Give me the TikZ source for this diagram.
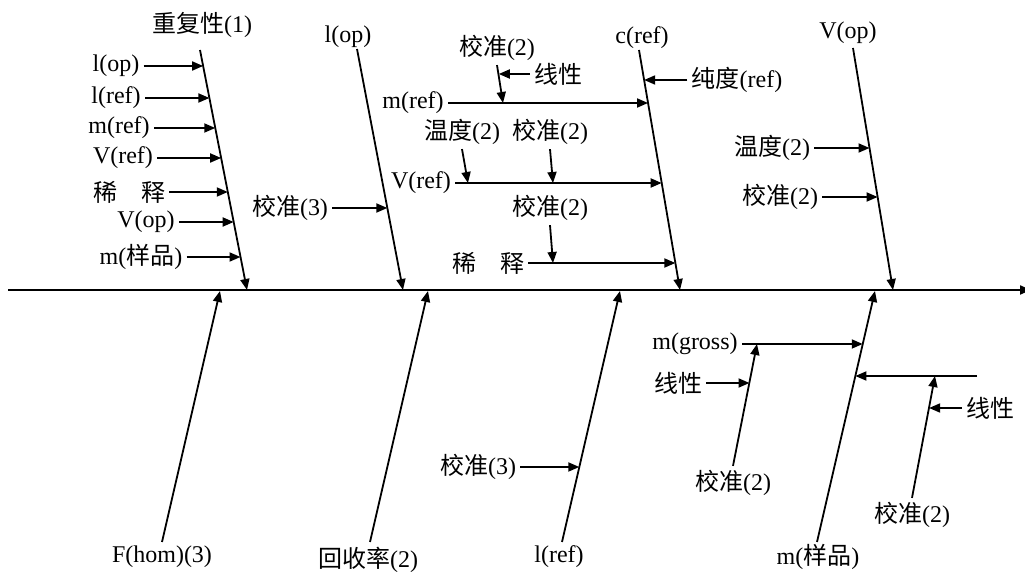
\documentclass[tikz,border=0pt]{standalone}
\usepackage{fontspec}
\setmainfont{Liberation Serif}
\newfontfamily\cjk{Noto Sans CJK SC}
\usetikzlibrary{arrows.meta,calc}
\newcommand{\zh}[1]{{\cjk #1}}

\tikzset{
  lbl/.style={inner sep=2pt,font=\fontsize{12}{14}\selectfont},
  arr/.style={line width=0.9pt,-{Triangle[length=5.5pt,width=4.5pt]}},
}

\begin{document}
\begin{tikzpicture}[x=0.5pt,y=-0.5pt]
  \useasboundingbox (0,0) rectangle (1025,572);
  % spine
  \coordinate (sL) at (8,290);
  \coordinate (sR) at (1031,290);
  \draw[arr,line width=1pt] (sL) -- (sR);

  % upper bones
  \foreach \n/\t/\lx/\ly/\tx/\ty/\bx in {
      rep/{\zh{重复性}(1)}/202/25/200/50/247,
      lop/{l(op)}/348/37/357/49/403,
      cref/{c(ref)}/642/38/639/50/680,
      vop/{V(op)}/848/33/853/48/893}{
    \node[lbl] (\n) at (\lx,\ly) {\t};
    \coordinate (\n-t) at (\tx,\ty);
    \coordinate (\n-b) at (\bx,290);
    \draw[arr] (\n-t) -- (\n-b);}

  % lower bones
  \foreach \n/\t/\lx/\ly/\bx/\tx in {
      fhom/{F(hom)(3)}/162/557/162/220,
      rec/{\zh{回收率}(2)}/368/560/370/428,
      lref/{l(ref)}/559/557/562/620,
      msam/{m(\zh{样品})}/818/557/817/875}{
    \node[lbl] (\n) at (\lx,\ly) {\t};
    \coordinate (\n-b) at (\bx,542);
    \coordinate (\n-t) at (\tx,291);
    \draw[arr] (\n-b) -- (\n-t);}

  % causes on the repeatability bone
  \foreach \n/\t/\x/\y in {
      r1/{l(op)}/116/66, r2/{l(ref)}/116/98, r3/{m(ref)}/119/128,
      r4/{V(ref)}/123/158, r5/{\zh{稀　释}}/129/192, r6/{V(op)}/146/222,
      r7/{m(\zh{样品})}/141/257}{
    \node[lbl] (\n) at (\x,\y) {\t};
    \coordinate (\n-e) at ($(rep-t)!{(\y-50)/240}!(rep-b)$);
    \draw[arr] (\n) -- (\n -| \n-e);}

  % l(op) bone
  \node[lbl] (lo1) at (290,208) {\zh{校准}(3)};
  \coordinate (lo1-e) at ($(lop-t)!{(208-49)/241}!(lop-b)$);
  \draw[arr] (lo1) -- (lo1 -| lo1-e);

  % c(ref) bone
  \node[lbl] (pur) at (737,80) {\zh{纯度}(ref)};
  \coordinate (pur-e) at ($(cref-t)!{(80-50)/240}!(cref-b)$);
  \draw[arr] (pur) -- (pur -| pur-e);
  \foreach \n/\t/\x/\y in {
      mr/{m(ref)}/413/103, vr/{V(ref)}/421/183, dil/{\zh{稀　释}}/488/263}{
    \node[lbl] (\n) at (\x,\y) {\t};
    \coordinate (\n-e) at ($(cref-t)!{(\y-50)/240}!(cref-b)$);
    \draw[arr] (\n) -- (\n -| \n-e);}

  % sub-causes above the horizontal branches
  \node[lbl] (mrc) at (497,48) {\zh{校准}(2)};
  \coordinate (mrc-e) at (503,103);
  \draw[arr] (mrc.south) -- (mrc-e);
  \node[lbl] (mrl) at (558,74) {\zh{线性}};
  \coordinate (mrl-e) at ($(mrc.south)!0.3!(mrc-e)$);
  \draw[arr] (mrl) -- (mrl -| mrl-e);
  \node[lbl] (vrt) at (462,132) {\zh{温度}(2)};
  \coordinate (vrt-e) at (468,183);
  \draw[arr] (vrt.south) -- (vrt-e);
  \node[lbl] (vrc) at (550,132) {\zh{校准}(2)};
  \coordinate (vrc-e) at (553,183);
  \draw[arr] (vrc.south) -- (vrc-e);
  \node[lbl] (dlc) at (550,208) {\zh{校准}(2)};
  \coordinate (dlc-e) at (553,263);
  \draw[arr] (dlc.south) -- (dlc-e);

  % V(op) bone
  \foreach \n/\t/\x/\y in {
      vo1/{\zh{温度}(2)}/772/148, vo2/{\zh{校准}(2)}/780/197}{
    \node[lbl] (\n) at (\x,\y) {\t};
    \coordinate (\n-e) at ($(vop-t)!{(\y-48)/242}!(vop-b)$);
    \draw[arr] (\n) -- (\n -| \n-e);}

  % l(ref) bone
  \node[lbl] (lr1) at (478,467) {\zh{校准}(3)};
  \coordinate (lr1-e) at ($(lref-b)!{(542-467)/251}!(lref-t)$);
  \draw[arr] (lr1) -- (lr1 -| lr1-e);

  % m(sample) bone
  \node[lbl] (mg) at (695,344) {m(gross)};
  \coordinate (mg-e) at ($(msam-b)!{(542-344)/251}!(msam-t)$);
  \draw[arr] (mg) -- (mg -| mg-e);
  \node[lbl] (mgc) at (733,483) {\zh{校准}(2)};
  \coordinate (mgc-e) at (757,344);
  \draw[arr] (mgc.north) -- (mgc-e);
  \node[lbl] (mgl) at (678,383) {\zh{线性}};
  \coordinate (mgl-e) at ($(mgc.north)!{(469-383)/125}!(mgc-e)$);
  \draw[arr] (mgl) -- (mgl -| mgl-e);
  \coordinate (rb) at (977,376);
  \coordinate (rb-e) at ($(msam-b)!{(542-376)/251}!(msam-t)$);
  \draw[arr] (rb) -- (rb -| rb-e);
  \node[lbl] (rbc) at (912,515) {\zh{校准}(2)};
  \coordinate (rbc-e) at (935,376);
  \draw[arr] (rbc.north) -- (rbc-e);
  \node[lbl] (rbl) at (990,408) {\zh{线性}};
  \coordinate (rbl-e) at ($(rbc.north)!{(501-408)/125}!(rbc-e)$);
  \draw[arr] (rbl) -- (rbl -| rbl-e);
\end{tikzpicture}
\end{document}
